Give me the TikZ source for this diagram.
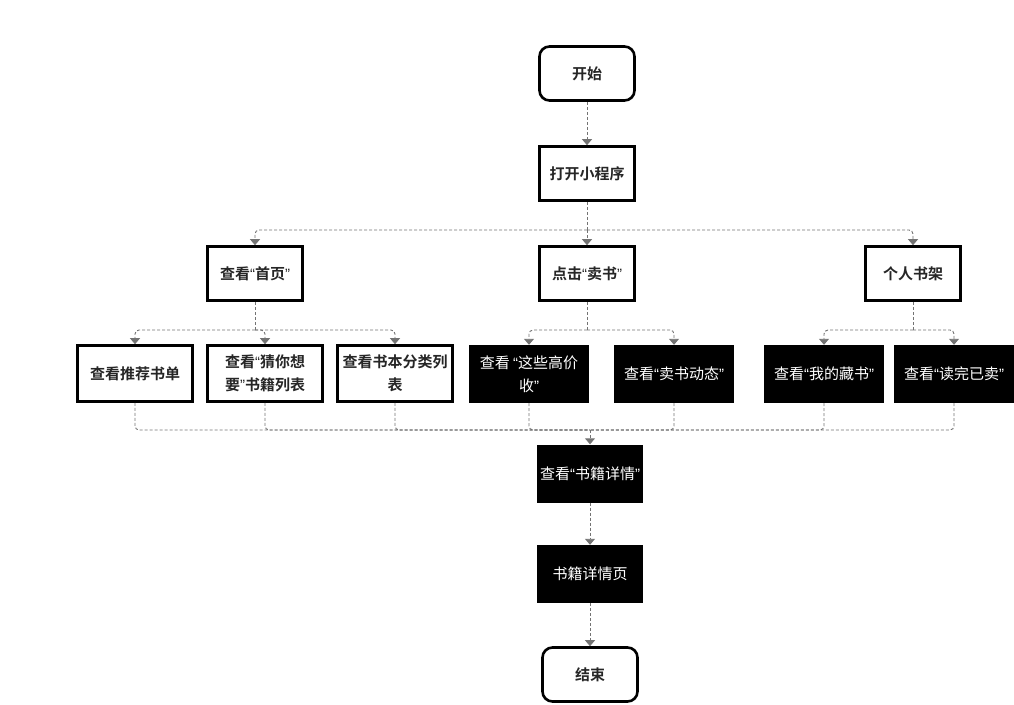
\documentclass[tikz,border=0pt]{standalone}
\usepackage{fontspec}
\usepackage{tikz}
\usetikzlibrary{arrows.meta}
\newfontfamily\cjk{Noto Sans CJK SC}
\newfontfamily\cjkbold{Noto Sans CJK SC Bold}
\newfontfamily\quotefont{Liberation Sans}
\newcommand\qopen{{\quotefont “}}
\newcommand\qclose{{\quotefont ”}}

\begin{document}
\begin{tikzpicture}[x=1pt, y=-1pt,
	terminal/.style={draw, line width=2.6pt, rounded corners=10pt, minimum width=95pt, minimum height=54pt, inner sep=0pt, font=\cjkbold\fontsize{15}{23}\selectfont, text=black!85},
	whitebox/.style={draw, line width=2.6pt, minimum width=95pt, minimum height=54pt, inner sep=0pt, align=center, font=\cjkbold\fontsize{15}{23}\selectfont, text=black!85},
	blackbox/.style={fill=black, minimum width=120pt, minimum height=58pt, inner sep=0pt, align=center, font=\cjk\fontsize{15}{23}\selectfont, text=white},
	link/.style={draw=black!55, line width=0.9pt, dash pattern=on 3pt off 2pt, rounded corners=4pt},
	arrow/.style={link, -{Triangle[width=10pt, length=6pt, fill=black!55]}}]
	\useasboundingbox (0,0) rectangle (1014,704);

	% Define nodes
	\node [terminal] (start) at (587,73.5) {开始};
	\node [whitebox] (open) at (587,173.5) {打开小程序};

	\node [whitebox] (home) at (255,273.5) {查看\qopen 首页\qclose};
	\node [whitebox] (sell) at (587,273.5) {点击\qopen 卖书\qclose};
	\node [whitebox] (shelf) at (913,273.5) {个人书架};

	\node [whitebox, minimum width=115pt, minimum height=56pt] (recommend) at (135,373.5) {查看推荐书单};
	\node [whitebox, minimum width=115pt, minimum height=56pt] (guess) at (265,373.5) {查看\qopen 猜你想\\要\qclose 书籍列表};
	\node [whitebox, minimum width=115pt, minimum height=56pt] (category) at (395,373.5) {查看书本分类列\\表};
	\node [blackbox] (highprice) at (529,374) {查看 \qopen 这些高价\\收\qclose};
	\node [blackbox] (news) at (674,374) {查看\qopen 卖书动态\qclose};
	\node [blackbox] (collect) at (824,374) {查看\qopen 我的藏书\qclose};
	\node [blackbox] (sold) at (954,374) {查看\qopen 读完已卖\qclose};

	\node [blackbox, minimum width=106pt] (detail) at (590,473.5) {查看\qopen 书籍详情\qclose};
	\node [blackbox, minimum width=106pt] (page) at (590,574) {书籍详情页};
	\node [terminal] (end) at (590,674.5) {结束};

	\coordinate (split1) at (587,230);
	\coordinate (split2) at (255,330);
	\coordinate (split3) at (587,330);
	\coordinate (split4) at (913,330);
	\coordinate (merge) at (590,430);

	% Draw edges
	\draw [arrow] (start) -- (open);
	\draw [link] (open) -- (split1);
	\draw [arrow] (split1) -| (home.north);
	\draw [arrow] (split1) -- (sell);
	\draw [arrow] (split1) -| (shelf.north);

	\draw [link] (home) -- (split2);
	\draw [arrow] (split2) -| (recommend.north);
	\draw [arrow] (split2) -| (guess.north);
	\draw [arrow] (split2) -| (category.north);

	\draw [link] (sell) -- (split3);
	\draw [arrow] (split3) -| (highprice.north);
	\draw [arrow] (split3) -| (news.north);

	\draw [link] (shelf) -- (split4);
	\draw [arrow] (split4) -| (collect.north);
	\draw [arrow] (split4) -| (sold.north);

	\foreach \n in {recommend, guess, category, highprice, news, collect, sold}
		\draw [link] (\n.south) |- (merge);
	\draw [arrow] (merge) -- (detail);
	\draw [arrow] (detail) -- (page);
	\draw [arrow] (page) -- (end);
\end{tikzpicture}
\end{document}
